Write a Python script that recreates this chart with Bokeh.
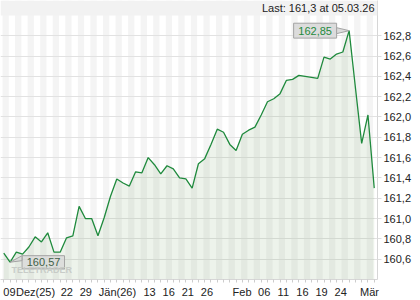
import pandas as pd
from bokeh.plotting import figure
from bokeh.models import Range1d, FixedTicker, Label, BoxAnnotation, CustomJSTickFormatter
from bokeh.embed import file_html
from bokeh.resources import INLINE

# ---------------- data ----------------
holidays = ["2025-12-25", "2025-12-26", "2026-01-01"]
dates = [d for d in pd.bdate_range("2025-12-09", "2026-03-05")
         if d.strftime("%Y-%m-%d") not in holidays]

prices = [160.66, 160.57, 160.67, 160.65, 160.72, 160.82, 160.77, 160.86, 160.67, 160.67,
          160.81, 160.83, 161.12, 161.00, 161.00, 160.83, 161.01, 161.22, 161.39, 161.35,
          161.32, 161.46, 161.45, 161.60, 161.53, 161.44, 161.52, 161.49, 161.40, 161.39,
          161.30, 161.54, 161.59, 161.73, 161.88, 161.85, 161.73, 161.67, 161.83, 161.87,
          161.90, 162.02, 162.15, 162.18, 162.23, 162.36, 162.37, 162.41, 162.40, 162.39,
          162.38, 162.59, 162.57, 162.62, 162.64, 162.85, 162.29, 161.74, 162.02, 161.30]

tick_dates = ["2025-12-09", "2025-12-11", "2025-12-22", "2025-12-29", "2026-01-02",
              "2026-01-13", "2026-01-16", "2026-01-21", "2026-01-26", "2026-02-02",
              "2026-02-06", "2026-02-11", "2026-02-16", "2026-02-19", "2026-02-24",
              "2026-03-02"]
tick_labels = ["09", "Dez(25)", "22", "29", "Jän(26)", "13", "16", "21", "26", "Feb",
               "06", "11", "16", "19", "24", "Mär"]
y_ticks = [160.6, 160.8, 161.0, 161.2, 161.4, 161.6, 161.8, 162.0, 162.2, 162.4, 162.6, 162.8]
last_text = "Last: 161,3 at 05.03.26"
min_text = "160,57"
max_text = "162,85"
watermark = "TELETRADER"

# ---------------- layout ----------------
W, H = 420, 300
FRAME_W, FRAME_H = 377, 281
X0, X1 = -0.52, 59.52
Y0, Y1 = 160.40, 163.147
FONT = "Liberation Sans"
FS = 11
LABEL_PITCH = 6.37   # px per trading day used by the date-label row
LABEL_START = 2.8    # px of the first date label

def dx(px):
    return px * (X1 - X0) / FRAME_W

def dy(px):
    return px * (Y1 - Y0) / FRAME_H

# approximate advance widths (Arial metrics, per 1000 em) to left-align tick labels
ADV = {"D": 722, "e": 556, "z": 500, "(": 333, ")": 333, "J": 500, "ä": 556, "n": 556,
       "F": 611, "b": 556, "M": 833, "r": 333}

def text_w(s):
    return sum(ADV.get(c, 556) for c in s) * FS / 1000.0

xs = list(range(len(prices)))
date_keys = [d.strftime("%Y-%m-%d") for d in dates]
tick_idx = [date_keys.index(t) for t in tick_dates]
tick_pos = [X0 + dx(LABEL_START + i * LABEL_PITCH + text_w(l) / 2.0)
            for i, l in zip(tick_idx, tick_labels)]

p = figure(width=W, height=H, output_backend="svg", toolbar_location=None,
           x_range=Range1d(X0, X1), y_range=Range1d(Y0, Y1),
           y_axis_location="right",
           min_border_left=0, min_border_right=W - FRAME_W,
           min_border_top=0, min_border_bottom=H - FRAME_H)
p.outline_line_color = None
p.background_fill_color = "white"
p.border_fill_color = "white"

# alternating day stripes
p.xgrid.ticker = FixedTicker(ticks=[i - 0.2 for i in range(len(prices) + 1)])
p.xgrid.grid_line_color = None
p.xgrid.band_fill_color = "#f4f4f4"
p.xgrid.band_fill_alpha = 1.0

p.ygrid.ticker = FixedTicker(ticks=y_ticks)
p.ygrid.grid_line_color = "#e2e2e2"
p.ygrid.grid_line_width = 1

# area + line
p.varea(x=xs, y1=[Y0] * len(prices), y2=prices, fill_color="#6a9a5a", fill_alpha=0.12)
p.line(xs, prices, line_color="#1f8a3d", line_width=1.3)

# top band with last price
p.add_layout(BoxAnnotation(bottom=Y1 - dy(15), top=Y1, left=X0, right=X1,
                           fill_color="#f2f2f2", fill_alpha=1.0, line_color=None))
p.add_layout(Label(x=X1 - dx(3), y=Y1 - dy(7.5), text=last_text, text_align="right",
                   text_baseline="middle", text_font=FONT, text_font_size="11px",
                   text_color="#222222"))

# x axis
xa = p.xaxis[0]
xa.ticker = FixedTicker(ticks=tick_pos, minor_ticks=xs)
xa.major_label_overrides = {t: l for t, l in zip(tick_pos, tick_labels)}
xa.major_tick_line_color = None
xa.major_tick_out = 3
xa.major_tick_in = 0
xa.minor_tick_line_color = "#cccccc"
xa.minor_tick_out = 3
xa.minor_tick_in = 0
xa.axis_line_color = "#d6d6d6"
xa.major_label_standoff = 3
xa.major_label_text_font = FONT
xa.major_label_text_font_size = "11px"
xa.major_label_text_color = "#222222"

# y axis
ya = p.yaxis[0]
ya.ticker = FixedTicker(ticks=y_ticks)
ya.formatter = CustomJSTickFormatter(code="return tick.toFixed(1).replace('.', ',');")
ya.major_tick_line_color = "#dddddd"
ya.major_tick_out = 4
ya.major_tick_in = 0
ya.minor_tick_line_color = None
ya.axis_line_color = "#d6d6d6"
ya.major_label_standoff = 2
ya.major_label_text_font = FONT
ya.major_label_text_font_size = "11px"
ya.major_label_text_color = "#222222"

# watermark
p.add_layout(Label(x=X0 + dx(11), y=Y0 + dy(10), text=watermark, text_align="left",
                   text_baseline="middle", text_font=FONT,
                   text_font_style="bold", text_font_size="9px",
                   text_color="#c6cac6", text_alpha=0.95))

# min / max callouts
imin = prices.index(min(prices))
imax = prices.index(max(prices))
vmin, vmax = prices[imin], prices[imax]

# max: box to the left of the point
p.quad(left=[imax - dx(55.5)], right=[imax - dx(12.5)],
       bottom=[vmax - dy(7.5)], top=[vmax + dy(7.5)],
       fill_color="#dcdcdc", line_color="#a4a4a4", line_width=1)
p.patch([imax, imax - dx(12.5), imax - dx(12.5)],
        [vmax, vmax + dy(3), vmax - dy(3)],
        fill_color="#dcdcdc", line_color="#a4a4a4", line_width=1)
p.add_layout(Label(x=imax - dx(34), y=vmax, text=max_text, text_align="center",
                   text_baseline="middle", text_font=FONT, text_font_size="11px",
                   text_color="#1f8a3d"))

# min: box to the right of the point
p.quad(left=[imin + dx(12)], right=[imin + dx(54.5)],
       bottom=[vmin - dy(6.7)], top=[vmin + dy(6.6)],
       fill_color="#d8d8d8", fill_alpha=0.8, line_color="#a4a4a4", line_width=1)
p.patch([imin, imin + dx(12), imin + dx(12)],
        [vmin, vmin + dy(6.6), vmin + dy(1.6)],
        fill_color="#d8d8d8", fill_alpha=0.8, line_color="#a4a4a4", line_width=1)
p.add_layout(Label(x=imin + dx(33.5), y=vmin, text=min_text, text_align="center",
                   text_baseline="middle", text_font=FONT, text_font_size="11px",
                   text_color="#3f5f47"))

open("out.html", "w").write(file_html(p, INLINE))
